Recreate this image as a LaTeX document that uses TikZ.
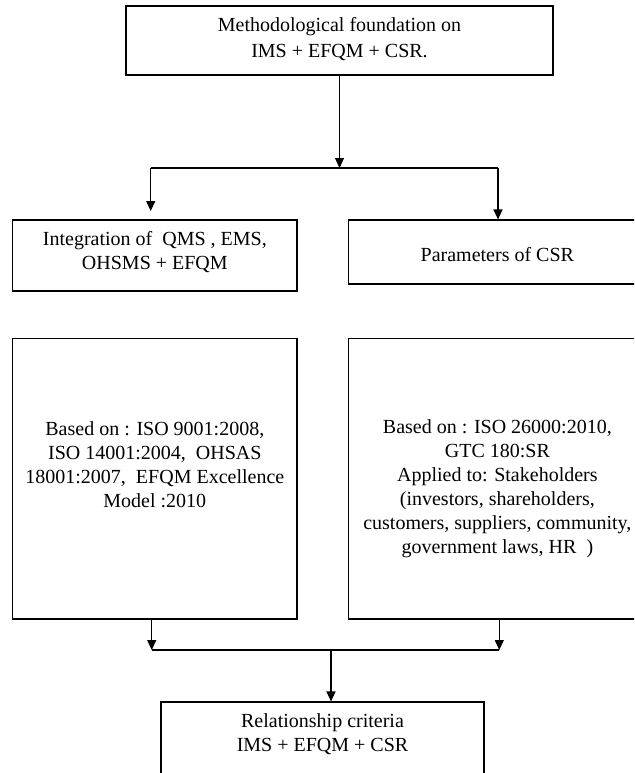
\documentclass[tikz,border=0pt]{standalone}
\usepackage{fontspec}
\setmainfont{Liberation Serif}
\usetikzlibrary{arrows.meta}
\begin{document}
\begin{tikzpicture}[x=1pt,y=-1pt,
  box/.style={draw, line width=1.1pt, inner sep=0pt, rectangle},
  txt/.style={align=center, font=\fontsize{20}{24}\selectfont, inner sep=0pt},
  arr/.style={line width=1.1pt, -{Triangle[width=9pt,length=10pt]}},
  ln/.style={line width=1.1pt}]
\useasboundingbox (0,0) rectangle (634,773);
\clip (0,0) rectangle (634,773);
% boxes
\node[box, minimum width=427pt, minimum height=69pt] (top) at (339.5,40.5) {};
\node[box, minimum width=284.3pt, minimum height=71pt] (intg) at (154.85,255.5) {};
\node[box, minimum width=297.3pt, minimum height=64pt] (par) at (497.35,252) {};
\node[box, minimum width=284.3pt, minimum height=280.3pt] (basedL) at (154.85,478.85) {};
\node[box, minimum width=297.3pt, minimum height=280.3pt] (basedR) at (497.35,478.85) {};
\node[box, minimum width=323pt, minimum height=98pt] (rel) at (322.5,751) {};
% texts
\node[txt, font=\fontsize{20}{26.5}\selectfont] (tTop) at (339.5,39) {Methodological foundation on\\IMS + EFQM + CSR.};
\node[txt] (tIntg) at (154.85,252) {Integration of\ \ QMS , EMS,\\OHSMS + EFQM};
\node[txt] (tPar) at (497.35,255) {Parameters of CSR};
\node[txt] (tBL) at (154.85,465) {Based on : ISO 9001:2008,\\ISO 14001:2004,\ \ OHSAS\\18001:2007,\ \ EFQM Excellence\\Model :2010};
\node[txt] (tBR) at (497.35,489) {Based on : ISO 26000:2010,\\GTC 180:SR\\Applied to: Stakeholders\\(investors, shareholders,\\customers, suppliers, community,\\government laws, HR\ \ )};
\node[txt] (tRel) at (322.5,734) {Relationship criteria\\IMS + EFQM + CSR};
% connectors
\coordinate (jL) at (150.7,168);
\coordinate (jR) at (498,168);
\coordinate (aL) at (150.7,211);
\draw[arr] (top.south) -- (top.south |- jL);
\draw[ln] (jL) -- (jR);
\draw[arr] (jL) -- (aL);
\draw[arr] (jR) -- (jR |- par.north);
\coordinate (kL) at (151.7,650);
\coordinate (kR) at (499.3,650);
\coordinate (kM) at (331,650);
\draw[arr] (kL |- basedL.south) -- (kL);
\draw[arr] (kR |- basedR.south) -- (kR);
\draw[ln] (kL) -- (kR);
\draw[arr] (kM) -- (kM |- rel.north);
\end{tikzpicture}
\end{document}
